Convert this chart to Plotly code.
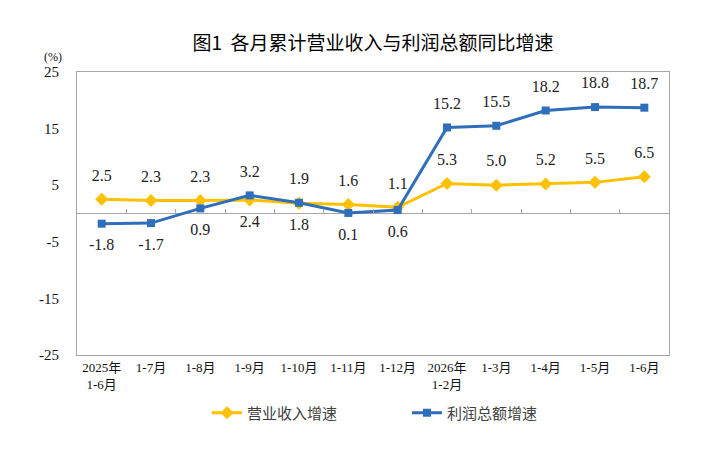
import plotly.graph_objects as go

# colours
rev_color = "#FFC000"
prof_color = "#2F6EBA"
axis_color = "#A6A6A6"

# ------------------------------
# Data
# ------------------------------
months = [
    "2025年<br>1-6月", "1-7月", "1-8月", "1-9月", "1-10月", "1-11月",
    "1-12月", "2026年<br>1-2月", "1-3月", "1-4月", "1-5月", "1-6月",
]
revenue_growth = [2.5, 2.3, 2.3, 2.4, 1.8, 1.6, 1.1, 5.3, 5.0, 5.2, 5.5, 6.5]
profit_growth = [-1.8, -1.7, 0.9, 3.2, 1.9, 0.1, 0.6, 15.2, 15.5, 18.2, 18.8, 18.7]

# where the value labels sit
revenue_textpos = ["top center"] * 3 + ["bottom center"] * 2 + ["top center"] * 7
profit_textpos = ["bottom center"] * 3 + ["top center"] * 2 + ["bottom center"] * 2 + ["top center"] * 5

y_ticks = [-25, -15, -5, 5, 15, 25]
y_ticktext = ["-25", "-15", "-5", "5", "15", "25"]

num_font = "Liberation Serif, Noto Sans CJK SC"
cjk_font = "Noto Sans CJK SC"

# ------------------------------
# Figure
# ------------------------------
fig = go.Figure()

series = [
    ("营业收入增速", revenue_growth, revenue_textpos, rev_color, "diamond", 10),
    ("利润总额增速", profit_growth, profit_textpos, prof_color, "square", 8),
]

for name, vals, textpos, color, symbol, size in series:
    fig.add_trace(
        go.Scatter(
            name=name,
            x=months,
            y=vals,
            mode="lines+markers",
            line=dict(color=color, width=3),
            marker=dict(symbol=symbol, size=size, color=color),
        )
    )

# value labels: big invisible markers push the text a bit further away
for name, vals, textpos, color, symbol, size in series:
    fig.add_trace(
        go.Scatter(
            x=months,
            y=vals,
            mode="markers+text",
            marker=dict(size=22, opacity=0),
            text=["{0:.1f}".format(v) for v in vals],
            textposition=textpos,
            textfont=dict(family=num_font, size=16, color="#222222"),
            showlegend=False,
            hoverinfo="skip",
        )
    )

# invisible helper trace so the tick marks on the zero line get drawn
fig.add_trace(
    go.Scatter(
        x=months,
        y=revenue_growth,
        xaxis="x2",
        mode="markers",
        marker=dict(opacity=0),
        showlegend=False,
        hoverinfo="skip",
    )
)

fig.update_layout(
    width=724,
    height=449,
    margin=dict(l=77, r=55, t=72, b=94),
    paper_bgcolor="white",
    plot_bgcolor="white",
    title=dict(
        text="图1  各月累计营业收入与利润总额同比增速",
        x=0.5,
        xanchor="center",
        xref="paper",
        y=1 - 43 / 449,
        yref="container",
        yanchor="middle",
        font=dict(family=cjk_font, size=19, color="#000000"),
    ),
    xaxis=dict(
        type="category",
        categoryorder="array",
        categoryarray=months,
        range=[-0.5, 11.5],
        showline=True,
        mirror=True,
        linecolor=axis_color,
        linewidth=1,
        showgrid=False,
        ticks="",
        tickfont=dict(family=num_font, size=13, color="#111111"),
    ),
    xaxis2=dict(
        type="category",
        categoryorder="array",
        categoryarray=months,
        range=[-0.5, 11.5],
        overlaying="x",
        anchor="free",
        position=0.5,
        showline=False,
        showgrid=False,
        showticklabels=False,
        ticks="inside",
        tickson="boundaries",
        ticklen=5,
        tickwidth=1,
        tickcolor=axis_color,
    ),
    yaxis=dict(
        range=[-25, 25],
        tickvals=y_ticks,
        ticktext=y_ticktext,
        showline=True,
        mirror=True,
        linecolor=axis_color,
        linewidth=1,
        showgrid=False,
        zeroline=True,
        zerolinecolor=axis_color,
        zerolinewidth=1,
        ticks="",
        ticklabelstandoff=14,
        tickfont=dict(family=num_font, size=15, color="#111111"),
    ),
    legend=dict(
        orientation="h",
        x=0.2196,
        xanchor="left",
        y=-0.205,
        yanchor="middle",
        font=dict(family=cjk_font, size=15, color="#404040"),
        entrywidth=155,
        entrywidthmode="pixels",
        tracegroupgap=0,
    ),
    showlegend=True,
    annotations=[
        dict(
            text="(%)",
            xref="paper",
            yref="paper",
            x=-0.04,
            y=1.052,
            xanchor="center",
            yanchor="middle",
            showarrow=False,
            font=dict(family=num_font, size=12, color="#111111"),
        )
    ],
)

fig.write_html(
    "out.html",
    config={"displayModeBar": False},
    post_script="document.body.style.margin='0';",
)
